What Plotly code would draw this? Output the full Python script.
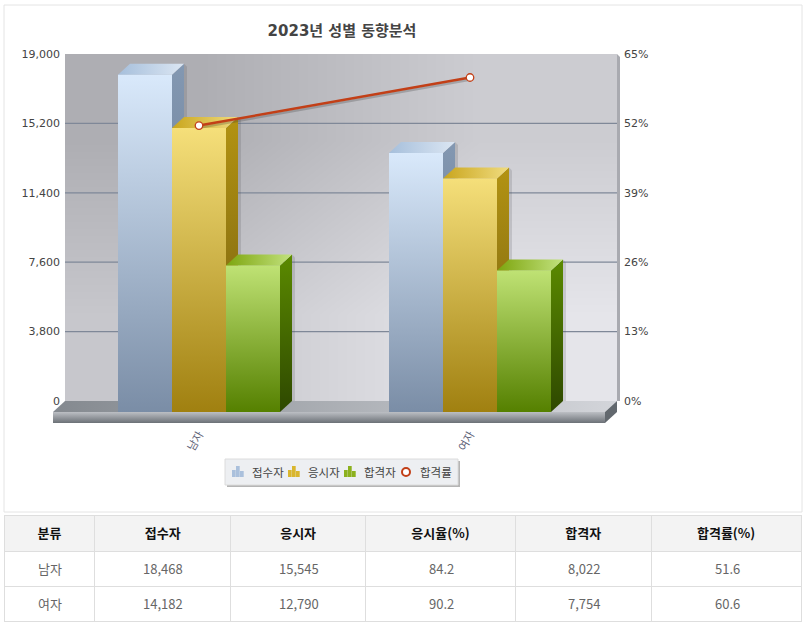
"""Exam statistics by gender: pseudo-3D bars, rate line and summary table."""
import plotly.graph_objects as go

TITLE = "2023년 성별 동향분석"
categories = ["남자", "여자"]
series_names = ["접수자", "응시자", "합격자"]
applicants = [18468, 14182]
takers = [15545, 12790]
passers = [8022, 7754]
take_rate = [84.2, 90.2]
pass_rate = [51.6, 60.6]
left_ticks = [0, 3800, 7600, 11400, 15200, 19000]
right_ticks = [0, 13, 26, 39, 52, 65]
table_headers = ["분류", "접수자", "응시자", "응시율(%)", "합격자", "합격률(%)"]

W, H = 806, 631
FONT = "DejaVu Sans, Noto Sans CJK KR"
KR = "Noto Sans CJK KR"

# pixel frame of the chart
X_ZERO, X_STEP = 199, 271
PLOT_L, PLOT_R = 53, 620
WALL_L, WALL_R = 65, 617
FLOOR_R = 605
Y_TOP, Y_ZERO, Y_BOTTOM = 54, 401, 423
UNIT = (Y_ZERO - Y_TOP) / max(left_ticks)  # px per person
DEPTH_X = 12 / X_STEP
DEPTH_Y = 11 / UNIT
BAR_W = 54 / X_STEP
STRIP = 11 / UNIT
y_low = -(Y_BOTTOM - Y_ZERO) / UNIT

# table frame
TABLE_L, TABLE_R = 4, 802
TABLE_T, HEAD_H, ROW_H = 515, 36, 35
col_widths = [91, 136, 135, 150, 136, 150]


def px(x):
    return x / W


def py(y):
    return 1 - y / H


def dx(x):
    return (x - X_ZERO) / X_STEP


def face(xs, ys, colors, kind="vertical"):
    """Filled polygon with a two colour gradient, in axis coordinates."""
    return go.Scatter(
        x=xs, y=ys, mode="lines", fill="toself", line=dict(width=0),
        fillgradient=dict(type=kind, colorscale=[[0, colors[0]], [1, colors[1]]]),
        hoverinfo="skip", showlegend=False,
    )


def flat(xs, ys, color):
    return go.Scatter(
        x=xs, y=ys, mode="lines", fill="toself", line=dict(width=0),
        fillcolor=color, hoverinfo="skip", showlegend=False,
    )


fig = go.Figure()

# back wall, diagonal shading
fig.add_trace(go.Heatmap(
    x=[dx(WALL_L), dx((WALL_L + WALL_R) / 2), dx(WALL_R)],
    y=[0, max(left_ticks) / 2, max(left_ticks)],
    z=[[0.45, 1.0], [0.0, 0.55]],
    zsmooth="best", showscale=False, hoverinfo="skip",
    colorscale=[[0, "#aeaeb3"], [1, "#e5e5ea"]],
))

# right edge of the wall
fig.add_trace(flat(
    [dx(WALL_R), dx(WALL_R + 3), dx(WALL_R + 3), dx(WALL_R)],
    [0, 0, max(left_ticks) - 3 / UNIT, max(left_ticks)], "#a9aab0",
))

# gridlines
grid_x, grid_y = [], []
for v in left_ticks[1:-1]:
    grid_x += [dx(WALL_L), dx(WALL_R), None]
    grid_y += [v, v, None]
fig.add_trace(go.Scatter(
    x=grid_x, y=grid_y, mode="lines", line=dict(color="#7f8898", width=1.2),
    hoverinfo="skip", showlegend=False,
))

# floor
fig.add_trace(face(
    [dx(PLOT_L), dx(FLOOR_R), dx(WALL_R), dx(WALL_L)],
    [-DEPTH_Y, -DEPTH_Y, 0, 0], ["#84898f", "#d3d5da"], "horizontal",
))
fig.add_trace(face(
    [dx(PLOT_L), dx(FLOOR_R), dx(FLOOR_R), dx(PLOT_L)],
    [y_low, y_low, -STRIP, -STRIP], ["#6c7177", "#bcbfc4"],
))
fig.add_trace(flat(
    [dx(FLOOR_R), dx(WALL_R), dx(WALL_R), dx(FLOOR_R)],
    [-DEPTH_Y, 0, -DEPTH_Y, y_low], "#62686e",
))

# bar colours: front (bottom, top), side (bottom, top), cap (left, right)
bar_styles = [
    (["#7a8da6", "#d9e9fb"], ["#5e6f86", "#8398b2"], ["#a6bfdb", "#dbe6f3"], "#a9bdd4"),
    (["#a08010", "#f5df7a"], ["#6c5810", "#b39312"], ["#c9a51c", "#f0dc80"], "#cdaa3c"),
    (["#558000", "#bfe274"], ["#2e4800", "#5b8a00"], ["#7da50e", "#c2e27e"], "#8ab13a"),
]
offsets = [-1.5 * BAR_W, -0.5 * BAR_W, 0.5 * BAR_W]
values = [applicants, takers, passers]

for name, vals, off, style in zip(series_names, values, offsets, bar_styles):
    fig.add_trace(go.Bar(
        x=[0, 1], y=vals, base=-DEPTH_Y, width=BAR_W, offset=off, name=name,
        marker=dict(color=style[3], line=dict(width=0)), showlegend=False,
        hovertemplate=name + " %{y:,}<extra></extra>",
    ))

for i in range(len(categories)):
    for vals, off, style in zip(values, offsets, bar_styles):
        x0 = i + off
        x1 = x0 + BAR_W
        top = vals[i] - DEPTH_Y
        # soft shadow on the wall
        fig.add_trace(flat(
            [x1 + DEPTH_X, x1 + DEPTH_X + 3 / X_STEP, x1 + DEPTH_X + 3 / X_STEP, x1 + DEPTH_X],
            [0, 0, vals[i] - 3 / UNIT, vals[i]], "rgba(60,60,70,0.16)",
        ))
        fig.add_trace(face(
            [x1, x1 + DEPTH_X, x1 + DEPTH_X, x1], [-DEPTH_Y, 0, vals[i], top], style[1],
        ))
        fig.add_trace(face(
            [x0, x1, x1 + DEPTH_X, x0 + DEPTH_X], [top, top, vals[i], vals[i]],
            style[2], "horizontal",
        ))
        fig.add_trace(face([x0, x1, x1, x0], [-DEPTH_Y, -DEPTH_Y, top, top], style[0]))

# pass rate line on the right axis
fig.add_trace(go.Scatter(
    x=[0 + 1 / X_STEP, 1 + 1 / X_STEP], y=[v - 2 * 65 / 347 for v in pass_rate], yaxis="y2",
    mode="lines", line=dict(color="rgba(50,50,50,0.25)", width=2.5),
    hoverinfo="skip", showlegend=False,
))
fig.add_trace(go.Scatter(
    x=[0, 1], y=pass_rate, yaxis="y2", name="합격률", mode="lines+markers",
    line=dict(color="#c23f17", width=2.5),
    marker=dict(size=7.5, color="white", line=dict(color="#c23f17", width=1.3)),
    cliponaxis=False, showlegend=False,
))

# summary table; go.Table top-aligns cell text, so the body text is placed below
body_columns = [
    categories,
    [f"{v:,}" for v in applicants],
    [f"{v:,}" for v in takers],
    [f"{v:.1f}" for v in take_rate],
    [f"{v:,}" for v in passers],
    [f"{v:.1f}" for v in pass_rate],
]
table_bottom = TABLE_T + HEAD_H + ROW_H * len(categories)
fig.add_trace(go.Table(
    domain=dict(x=[px(TABLE_L), px(TABLE_R)], y=[py(table_bottom + 2), py(TABLE_T)]),
    columnwidth=col_widths,
    header=dict(
        values=[f"<b>{h}</b>" for h in table_headers], height=HEAD_H,
        fill_color="#f3f3f3", line=dict(color="#dedede", width=1),
        font=dict(family=KR, size=13, color="#111111"), align="center",
    ),
    cells=dict(
        values=[[""] * len(categories) for _ in table_headers],
        height=ROW_H, fill_color="white", line=dict(color="#dedede", width=1),
        font=dict(family=KR, size=13, color="#666666"), align="center",
    ),
))

annotations = []
col_left = TABLE_L
for width, column in zip(col_widths, body_columns):
    for row, text in enumerate(column):
        annotations.append(dict(
            text=text, xref="paper", yref="paper", showarrow=False,
            x=px(col_left + width / 2), y=py(TABLE_T + HEAD_H + ROW_H * (row + 0.5)),
            xanchor="center", yanchor="middle",
            font=dict(family=KR, size=13, color="#666666"),
        ))
    col_left += width

# chart frame and hand built legend, the stock legend can't be this compact
shapes = [
    dict(type="rect", xref="paper", yref="paper", x0=px(4), x1=px(802), y0=py(512), y1=py(5),
         line=dict(color="#e4e4e4", width=1), layer="below"),
    dict(type="rect", xref="paper", yref="paper", x0=px(227), x1=px(460), y0=py(487), y1=py(461),
         line=dict(width=0), fillcolor="#b5b5b5"),
    dict(type="rect", xref="paper", yref="paper", x0=px(225), x1=px(458), y0=py(485), y1=py(459),
         line=dict(color="#dcdcdc", width=1), fillcolor="#edeff2"),
]
legend_names = series_names + ["합격률"]
icon_lefts = [232, 288, 344]
text_lefts = [250, 306, 362, 418]
icon_colors = ["#aac0dc", "#d9b62e", "#8cb11e"]
for left, color in zip(icon_lefts, icon_colors):
    for shift, top in zip([0, 4, 8], [470, 466, 471]):
        shapes.append(dict(
            type="rect", xref="paper", yref="paper", x0=px(left + shift), x1=px(left + shift + 3.7),
            y0=py(477), y1=py(top), line=dict(width=0), fillcolor=color,
        ))
shapes.append(dict(
    type="circle", xref="paper", yref="paper", x0=px(402), x1=px(410), y0=py(476), y1=py(468),
    line=dict(color="#c23f17", width=2), fillcolor="white",
))
for label, left in zip(legend_names, text_lefts):
    annotations.append(dict(
        text=label, xref="paper", yref="paper", x=px(left), y=py(472), showarrow=False,
        xanchor="left", yanchor="middle", font=dict(family=KR, size=11.5, color="#444444"),
    ))

fig.update_layout(
    width=W, height=H, margin=dict(l=0, r=0, t=0, b=0), paper_bgcolor="white",
    plot_bgcolor="white", barmode="overlay", showlegend=False,
    title=dict(
        text=f"<b>{TITLE}</b>", x=px(342), y=py(31), xref="paper", yref="paper",
        xanchor="center", yanchor="middle", font=dict(family=FONT, size=15, color="#444444"),
    ),
    font=dict(family=FONT, size=11, color="#444444"),
    shapes=shapes, annotations=annotations,
    xaxis=dict(
        domain=[px(PLOT_L), px(PLOT_R)], range=[dx(PLOT_L), dx(PLOT_R)],
        tickvals=[0, 1], ticktext=categories, tickangle=-60, ticks="", automargin=False,
        ticklabelstandoff=2,
        showgrid=False, zeroline=False, showline=False, fixedrange=True,
        tickfont=dict(family=KR, size=11, color="#5f6478"),
    ),
    yaxis=dict(
        domain=[py(Y_BOTTOM), py(Y_TOP)], range=[y_low, max(left_ticks)],
        tickvals=left_ticks, tickformat=",d", ticks="", ticklabelstandoff=-8, automargin=False,
        showgrid=False, zeroline=False, showline=False, fixedrange=True,
    ),
    yaxis2=dict(
        overlaying="y", side="right", anchor="x", automargin=False, ticklabelstandoff=3,
        range=[y_low * max(right_ticks) / max(left_ticks), max(right_ticks)],
        tickvals=right_ticks, ticktext=[f"{v}%" for v in right_ticks], ticks="",
        showgrid=False, zeroline=False, showline=False, fixedrange=True,
    ),
)

fig.write_html(
    "out.html", config={"displayModeBar": False},
    post_script="document.body.style.margin='0';",
)
